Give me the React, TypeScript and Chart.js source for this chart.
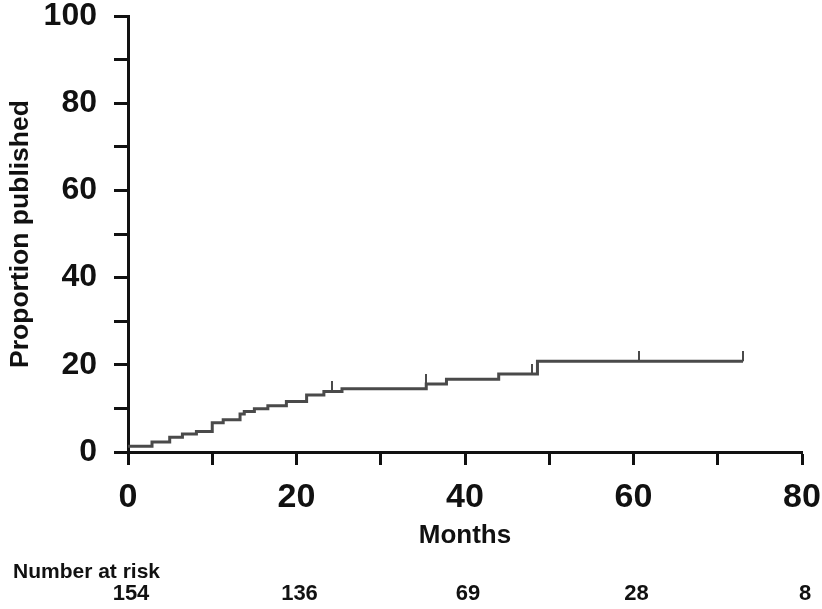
import React, { useEffect, useRef } from 'react';
import { Chart, registerables } from 'chart.js';

Chart.register(...registerables);

// Kaplan-Meier style step curve (months, proportion published %)
const stepMonths = [0, 2.85, 4.95, 6.46, 8.12, 10.0, 11.3, 13.3, 13.8, 15.0, 16.6, 18.8, 21.2, 23.25, 25.4, 35.4, 37.8, 44.0, 48.6, 73.0];
const stepProportion = [1.3, 2.3, 3.4, 4.1, 4.7, 6.7, 7.4, 8.7, 9.3, 9.9, 10.6, 11.6, 13.1, 13.9, 14.5, 15.6, 16.7, 17.9, 20.8, 20.8];
// censored observations
const censorMonths = [24.2, 35.4, 48.0, 60.7, 73.0];
// number at risk table
const riskMonths = [0, 20, 40, 60, 80];
const riskCounts = [154, 136, 69, 28, 8];

const FONT = "'Liberation Sans', Arial, sans-serif";
const AXIS_COLOR = '#111111';
const LINE_COLOR = '#4a4a4a';

function valueAt(t: number): number {
  let v = stepProportion[0];
  for (let i = 0; i < stepMonths.length; i++) {
    if (stepMonths[i] <= t) v = stepProportion[i];
  }
  return v;
}

export default function App() {
  const ref = useRef<HTMLCanvasElement | null>(null);

  useEffect(() => {
    document.body.style.margin = '0';
    const canvas = ref.current;
    if (!canvas) return;

    const mark = document.createElement('canvas');
    mark.width = 2;
    mark.height = 20;
    const mctx = mark.getContext('2d');
    if (mctx) {
      mctx.fillStyle = LINE_COLOR;
      mctx.fillRect(0, 0, 2, 10);
    }

    const riskPlugin = {
      id: 'riskTable',
      afterDraw(chart: any) {
        const { ctx } = chart;
        const xs = chart.scales.x;
        ctx.save();
        ctx.fillStyle = '#111';
        ctx.textBaseline = 'alphabetic';
        ctx.font = `bold 21px ${FONT}`;
        ctx.textAlign = 'left';
        ctx.fillText('Number at risk', 13, 578);
        ctx.font = `bold 22px ${FONT}`;
        ctx.textAlign = 'center';
        riskMonths.forEach((m, i) => {
          ctx.fillText(String(riskCounts[i]), xs.getPixelForValue(m) + 3, 600);
        });
        ctx.restore();
      },
    };

    const chart = new Chart(canvas, {
      type: 'line',
      data: {
        datasets: [
          {
            label: 'KM',
            data: stepMonths.map((m, i) => ({ x: m, y: stepProportion[i] })),
            stepped: 'before',
            borderColor: LINE_COLOR,
            borderWidth: 3,
            pointRadius: 0,
            fill: false,
          },
          {
            label: 'Censored',
            data: censorMonths.map((m) => ({ x: m, y: valueAt(m) })),
            showLine: false,
            pointStyle: mark as any,
            pointRadius: 5,
            borderWidth: 0,
          },
        ],
      },
      options: {
        responsive: false,
        animation: false,
        events: [],
        layout: { padding: { top: 16, right: 20, bottom: 0, left: 0 } },
        plugins: { legend: { display: false }, tooltip: { enabled: false } },
        scales: {
          x: {
            type: 'linear',
            min: 0,
            max: 80,
            afterFit(scale: any) {
              scale.height = 157;
              scale.paddingLeft = 0;
              scale.paddingRight = 0;
              scale.paddingTop = 0;
              scale.paddingBottom = 0;
            },
            ticks: {
              stepSize: 10,
              autoSkip: false,
              maxRotation: 0,
              padding: 12,
              color: '#111',
              font: { family: FONT, size: 34, weight: 'bold' },
              callback: (v: any) => (Number(v) % 20 === 0 ? String(v) : ''),
            },
            grid: {
              drawOnChartArea: false,
              drawTicks: true,
              tickLength: 13,
              tickWidth: 3,
              tickColor: AXIS_COLOR,
            },
            border: { display: true, color: AXIS_COLOR, width: 3 },
            title: {
              display: true,
              text: 'Months',
              color: '#111',
              font: { family: FONT, size: 26, weight: 'bold' },
              padding: { top: 0, bottom: 58 },
            },
          },
          y: {
            type: 'linear',
            min: 0,
            max: 100,
            afterFit(scale: any) {
              scale.width = 128;
              scale.paddingLeft = 0;
              scale.paddingRight = 0;
              scale.paddingTop = 0;
              scale.paddingBottom = 0;
            },
            ticks: {
              stepSize: 10,
              autoSkip: false,
              padding: 17,
              color: '#111',
              font: { family: FONT, size: 32, weight: 'bold' },
              callback: (v: any) => (Number(v) % 20 === 0 ? String(v) : ''),
            },
            grid: {
              drawOnChartArea: false,
              drawTicks: true,
              tickLength: 14,
              tickWidth: 3,
              tickColor: AXIS_COLOR,
            },
            border: { display: true, color: AXIS_COLOR, width: 3 },
            title: {
              display: true,
              text: 'Proportion published',
              color: '#111',
              font: { family: FONT, size: 26.5, weight: 'bold' },
              padding: { top: 5, bottom: 0 },
            },
          },
        },
      },
      plugins: [riskPlugin],
    });

    return () => chart.destroy();
  }, []);

  return (
    <div style={{ width: 822, height: 609 }}>
      <canvas ref={ref} width={822} height={609} style={{ display: 'block' }} />
    </div>
  );
}
